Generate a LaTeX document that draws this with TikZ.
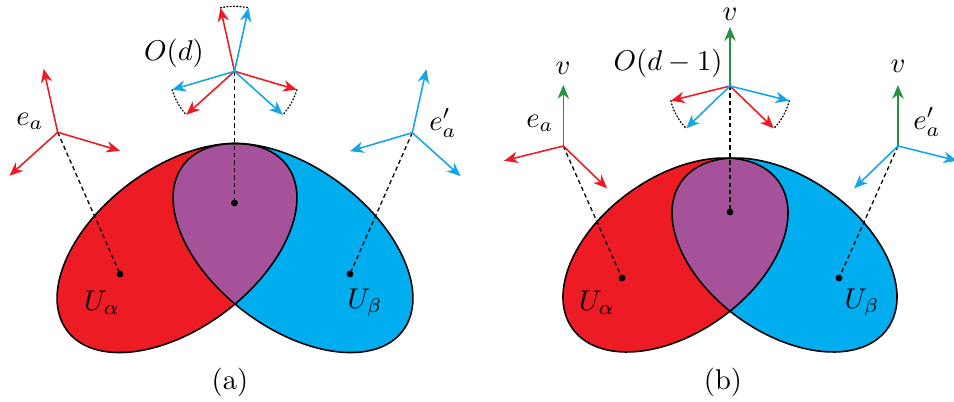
\documentclass[tikz,border=0pt]{standalone}
\usetikzlibrary{arrows.meta}
\definecolor{redfill}{RGB}{237,28,36}
\definecolor{bluefill}{RGB}{0,174,239}
\definecolor{purplefill}{RGB}{166,82,154}
\definecolor{redarr}{RGB}{237,28,36}
\definecolor{bluearr}{RGB}{20,165,230}
\definecolor{greenarr}{RGB}{40,145,65}
\newcommand{\mylens}[6]{%
  % #1 red centre x, #2 centre y, #3 a, #4 b, #5 angle, #6 blue centre x
  \fill[redfill, rotate around={#5:(#1,#2)}] (#1,#2) ellipse [x radius=#3, y radius=#4];
  \fill[bluefill, rotate around={-#5:(#6,#2)}] (#6,#2) ellipse [x radius=#3, y radius=#4];
  \begin{scope}
    \clip[rotate around={#5:(#1,#2)}] (#1,#2) ellipse [x radius=#3, y radius=#4];
    \fill[purplefill, rotate around={-#5:(#6,#2)}] (#6,#2) ellipse [x radius=#3, y radius=#4];
  \end{scope}
  \draw[outline, rotate around={#5:(#1,#2)}] (#1,#2) ellipse [x radius=#3, y radius=#4];
  \draw[outline, rotate around={-#5:(#6,#2)}] (#6,#2) ellipse [x radius=#3, y radius=#4];
}
\begin{document}
\begin{tikzpicture}[x=0.35pt, y=0.35pt,
  outline/.style={draw=black, line width=0.55pt},
  vec/.style={line width=0.55pt, -{Stealth[length=4.8pt, width=4pt, inset=1.5pt]}},
  rvec/.style={vec, draw=redarr, color=redarr},
  bvec/.style={vec, draw=bluearr, color=bluearr},
  gvec/.style={vec, draw=greenarr, color=greenarr},
  dashline/.style={draw=black, line width=0.45pt, dash pattern=on 1.5pt off 1.1pt},
  dotarc/.style={draw=black, line width=0.45pt, dash pattern=on 0.35pt off 0.8pt, line cap=round},
  spot/.style={circle, fill=black, inner sep=0pt, minimum size=2.4pt},
  lbl/.style={inner sep=0pt}]
\useasboundingbox (0,0) rectangle (954,-401);

% ---------------- panel (a) ----------------
\mylens{177}{-248}{137.5}{80}{37}{293}
\node[spot] (pA1) at (120,-274) {};
\node[spot] (pA2) at (234.5,-203) {};
\node[spot] (pA3) at (350,-274) {};

\coordinate (oA1) at (57.7,-132.3);
\coordinate (oA2) at (234.5,-71.3);
\coordinate (oA3) at (412.3,-132.7);

\draw[dashline] (oA1) -- (pA1.center);
\draw[dashline] (oA2) -- (pA2.center);
\draw[dashline] (oA3) -- (pA3.center);

% left frame (red)
\path (oA1) ++(102.5:65) coordinate (tA1a);
\path (oA1) ++(222:65) coordinate (tA1b);
\path (oA1) ++(-16.5:65) coordinate (tA1c);
\draw[rvec] (oA1) -- (tA1a);
\draw[rvec] (oA1) -- (tA1b);
\draw[rvec] (oA1) -- (tA1c);

% centre frames
\path (oA2) ++(102.5:65) coordinate (tA2a);
\path (oA2) ++(222:65) coordinate (tA2b);
\path (oA2) ++(-16.5:65) coordinate (tA2c);
\path (oA2) ++(77.5:65) coordinate (tA2d);
\path (oA2) ++(196.5:65) coordinate (tA2e);
\path (oA2) ++(-42:65) coordinate (tA2f);
\draw[dotarc] (tA2a) arc[start angle=102.5, end angle=77.5, radius=65];
\draw[dotarc] (tA2e) arc[start angle=196.5, end angle=222, radius=65];
\draw[dotarc] (tA2c) arc[start angle=-16.5, end angle=-42, radius=65];
\draw[rvec] (oA2) -- (tA2a);
\draw[rvec] (oA2) -- (tA2b);
\draw[rvec] (oA2) -- (tA2c);
\draw[bvec] (oA2) -- (tA2d);
\draw[bvec] (oA2) -- (tA2e);
\draw[bvec] (oA2) -- (tA2f);

% right frame (blue)
\path (oA3) ++(77.5:65) coordinate (tA3a);
\path (oA3) ++(196.5:65) coordinate (tA3b);
\path (oA3) ++(-42:65) coordinate (tA3c);
\draw[bvec] (oA3) -- (tA3a);
\draw[bvec] (oA3) -- (tA3b);
\draw[bvec] (oA3) -- (tA3c);

\node[lbl] (lA1) at (30,-121) {$e_a$};
\node[lbl] (lA2) at (174,-53) {$O(d)$};
\node[lbl] (lA3) at (443,-123) {$e'_a$};
\node[lbl] (uA1) at (102,-303) {$U_\alpha$};
\node[lbl] (uA2) at (365,-303) {$U_\beta$};
\node[lbl] (capA) at (230,-382) {(a)};

% ---------------- panel (b) ----------------
\mylens{675.5}{-255}{126.6}{77.7}{35.5}{784.5}
\node[spot] (pB1) at (622,-278) {};
\node[spot] (pB2) at (730,-212) {};
\node[spot] (pB3) at (839,-278) {};

\coordinate (oB1) at (563.3,-146);
\coordinate (oB2) at (730,-86);
\coordinate (oB3) at (898,-146);

\draw[dashline] (oB1) -- (pB1.center);
\draw[dashline] (oB2) -- (pB2.center);
\draw[dashline] (oB3) -- (pB3.center);

% left frame
\path (oB1) ++(90:61) coordinate (tB1v);
\path (oB1) ++(194:61) coordinate (tB1a);
\path (oB1) ++(-44:61) coordinate (tB1b);
\draw[gvec] (oB1) -- (tB1v);
\draw[rvec] (oB1) -- (tB1a);
\draw[rvec] (oB1) -- (tB1b);

% centre frame
\path (oB2) ++(90:59) coordinate (tB2v);
\path (oB2) ++(194:61) coordinate (tB2a);
\path (oB2) ++(-44:61) coordinate (tB2b);
\path (oB2) ++(-14:61) coordinate (tB2c);
\path (oB2) ++(224:61) coordinate (tB2d);
\draw[dotarc] (tB2a) arc[start angle=194, end angle=224, radius=61];
\draw[dotarc] (tB2c) arc[start angle=-14, end angle=-44, radius=61];
\draw[gvec] (oB2) -- (tB2v);
\draw[rvec] (oB2) -- (tB2a);
\draw[rvec] (oB2) -- (tB2b);
\draw[bvec] (oB2) -- (tB2c);
\draw[bvec] (oB2) -- (tB2d);

% right frame
\path (oB3) ++(90:61) coordinate (tB3v);
\path (oB3) ++(-14:61) coordinate (tB3a);
\path (oB3) ++(224:61) coordinate (tB3b);
\draw[gvec] (oB3) -- (tB3v);
\draw[bvec] (oB3) -- (tB3a);
\draw[bvec] (oB3) -- (tB3b);

\node[lbl] (vB1) at (563,-68) {$v$};
\node[lbl] (vB2) at (730,-14) {$v$};
\node[lbl] (vB3) at (898,-66) {$v$};
\node[lbl] (lB1) at (540,-123) {$e_a$};
\node[lbl] (lB2) at (668,-63) {$O(d-1)$};
\node[lbl] (lB3) at (927,-122) {$e'_a$};
\node[lbl] (uB1) at (597,-303) {$U_\alpha$};
\node[lbl] (uB2) at (862,-303) {$U_\beta$};
\node[lbl] (capB) at (723,-382) {(b)};
\end{tikzpicture}
\end{document}
